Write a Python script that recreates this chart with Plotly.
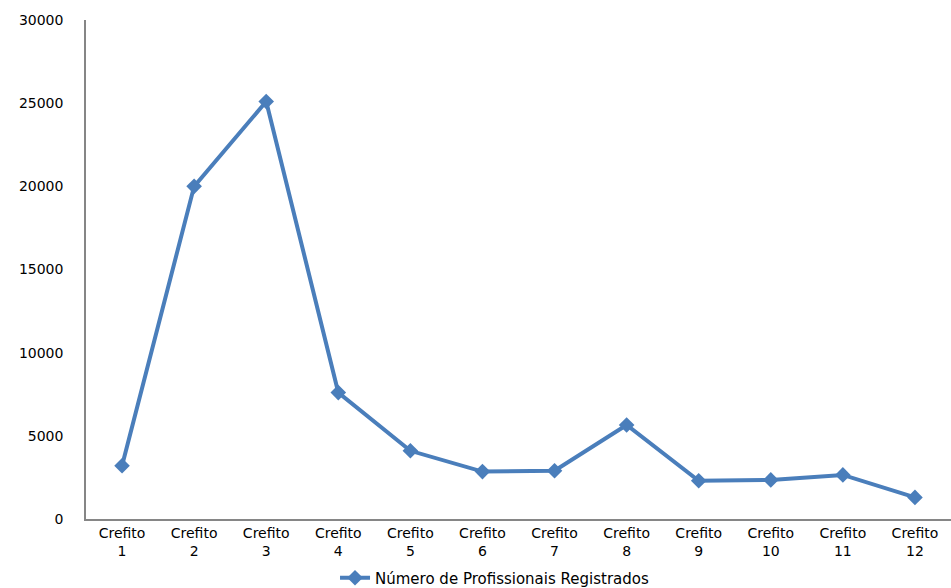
import plotly.graph_objects as go

categories = [f"Crefito<br>{i}" for i in range(1, 13)]
values = [3200, 20000, 25100, 7600, 4100, 2850, 2900, 5650, 2300, 2350, 2650, 1300]
series_name = "Número de Profissionais Registrados"
y_ticks = [0, 5000, 10000, 15000, 20000, 25000, 30000]
y_tick_labels = [str(v) for v in y_ticks]

fig = go.Figure()
fig.add_trace(go.Scatter(
    x=categories, y=values, mode="lines+markers", name=series_name,
    line=dict(color="#4A7EBB", width=4),
    marker=dict(symbol="diamond", size=12, color="#4A7EBB"),
))

font = dict(family="DejaVu Sans", size=14, color="#000000")
fig.update_layout(
    width=951, height=588,
    margin=dict(l=86, r=0, t=20, b=69),
    plot_bgcolor="white", paper_bgcolor="white",
    font=font,
    showlegend=True,
    legend=dict(orientation="h", xref="container", yref="container",
                x=0.52, y=0.017, xanchor="center", yanchor="middle",
                font=dict(family="DejaVu Sans", size=15, color="#000000"),
                bgcolor="rgba(0,0,0,0)"),
    xaxis=dict(type="category", range=[-0.5, 11.5], showgrid=False,
               showline=True, linecolor="#868686", linewidth=1.5,
               ticks="", tickfont=font),
    yaxis=dict(range=[0, 30000], tickvals=y_ticks, ticktext=y_tick_labels,
               showgrid=False,
               showline=True, linecolor="#868686", linewidth=1.5,
               ticks="", zeroline=False, tickfont=font, ticklabelstandoff=18),
)

fig.write_html("out.html")
